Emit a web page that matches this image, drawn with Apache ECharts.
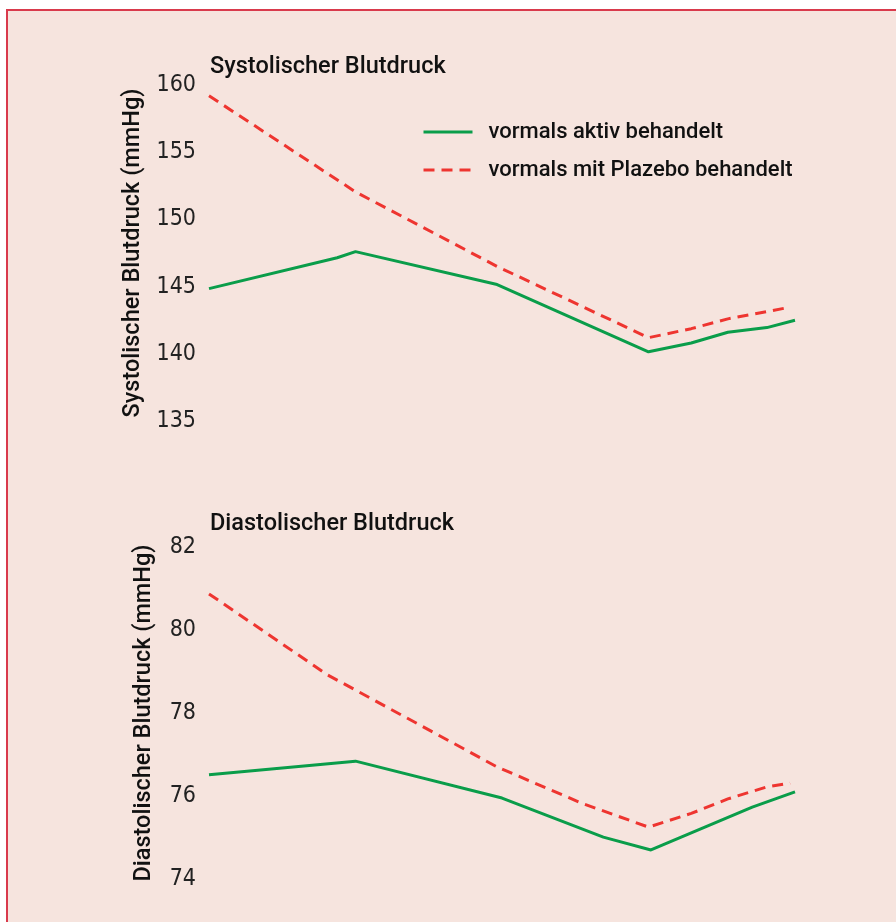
<!DOCTYPE html>
<html>
<head>
<meta charset="utf-8">
<script src="https://cdn.jsdelivr.net/npm/echarts@6/dist/echarts.min.js"></script>
<style>
html,body{margin:0;padding:0;background:#ffffff;}
#chart{width:896px;height:922px;}
</style>
</head>
<body>
<div id="chart"></div>
<script>
// ---- data (x = months of follow-up) ----
const seriesNames = ['vormals aktiv behandelt', 'vormals mit Plazebo behandelt'];
const panelTitles = ['Systolischer Blutdruck', 'Diastolischer Blutdruck'];
const axisNames = ['Systolischer Blutdruck (mmHg)', 'Diastolischer Blutdruck (mmHg)'];

const sysAktivX = [0, 10.5, 12, 23.6, 36, 39.5, 42.5, 45.7, 48];
const sysAktivY = [144.85, 147.15, 147.6, 145.15, 140.15, 140.8, 141.6, 141.95, 142.5];
const sysPlazeboX = [0, 12, 23.6, 36, 39.5, 42.5, 45.7, 47.6];
const sysPlazeboY = [159.2, 152.05, 146.5, 141.2, 141.87, 142.6, 143.14, 143.47];

const diaAktivX = [0, 12, 24, 32.3, 36.2, 44.5, 48];
const diaAktivY = [76.51, 76.84, 75.95, 75.01, 74.7, 75.73, 76.1];
const diaPlazeboX = [0, 9.7, 23.6, 30.5, 36, 39.5, 42.5, 45.7, 47.6];
const diaPlazeboY = [80.87, 78.92, 76.7, 75.83, 75.25, 75.58, 75.93, 76.22, 76.31];

const sysTicks = [135, 140, 145, 150, 155, 160];
const diaTicks = [74, 76, 78, 80, 82];

// ---- styles ----
const GREEN = '#0a9d4a';
const RED = '#ee3530';
const BG = '#f6e4de';
const BORDER = '#d93a4c';
const TXT = '#111111';
const tickFont = "'Liberation Sans Narrow', 'DejaVu Sans Condensed', 'Roboto Condensed', 'Liberation Sans', sans-serif";
const textFont = "Roboto, 'Liberation Sans', sans-serif";

function pairs(xs, ys) { return xs.map((x, i) => [x, ys[i]]); }

function yAxisFor(gridIndex, ticks, name) {
  return {
    type: 'value', gridIndex: gridIndex,
    min: ticks[0], max: ticks[ticks.length - 1], interval: ticks[1] - ticks[0],
    axisLine: {show: false}, axisTick: {show: false}, splitLine: {show: false},
    axisLabel: {margin: 13, fontFamily: tickFont, fontSize: 23, color: '#222'},
    name: name, nameLocation: 'middle', nameGap: 53,
    nameTextStyle: {fontFamily: textFont, fontSize: 23.5, fontWeight: 500, color: TXT}
  };
}

function xAxisFor(gridIndex) {
  return {type: 'value', gridIndex: gridIndex, min: 0, max: 48, show: false};
}

function lineSeries(name, gi, xs, ys, color, dashed) {
  return {
    name: name, type: 'line', xAxisIndex: gi, yAxisIndex: gi,
    data: pairs(xs, ys), symbol: 'none', smooth: false, silent: true,
    lineStyle: {color: color, width: 3, type: dashed ? [11, 7] : 'solid'},
    itemStyle: {color: color}
  };
}

const chart = echarts.init(document.getElementById('chart'), null, {renderer: 'canvas'});
chart.setOption({
  animation: false,
  backgroundColor: '#ffffff',
  graphic: [{
    type: 'rect', z: -10, silent: true,
    shape: {x: 7, y: 10, width: 900, height: 920},
    style: {fill: BG, stroke: BORDER, lineWidth: 2}
  }],
  title: [
    {text: panelTitles[0], left: 210, top: 55, padding: 0,
     textStyle: {fontFamily: textFont, fontSize: 23.5, fontWeight: 500, color: TXT}},
    {text: panelTitles[1], left: 210, top: 512, padding: 0,
     textStyle: {fontFamily: textFont, fontSize: 23.5, fontWeight: 500, color: TXT}}
  ],
  legend: {
    orient: 'vertical', left: 422, top: 121, padding: 0,
    itemWidth: 49, itemHeight: 14, itemGap: 16,
    selectedMode: false,
    itemStyle: {opacity: 0},
    lineStyle: {width: 3},
    data: seriesNames,
    textStyle: {fontFamily: textFont, fontSize: 22, fontWeight: 500, color: TXT,
                padding: [0, 0, 0, 11]}
  },
  grid: [
    {left: 209, top: 85, width: 586, height: 336},
    {left: 209, top: 547, width: 586, height: 332}
  ],
  xAxis: [xAxisFor(0), xAxisFor(1)],
  yAxis: [yAxisFor(0, sysTicks, axisNames[0]), yAxisFor(1, diaTicks, axisNames[1])],
  series: [
    lineSeries(seriesNames[0], 0, sysAktivX, sysAktivY, GREEN, false),
    lineSeries(seriesNames[1], 0, sysPlazeboX, sysPlazeboY, RED, true),
    lineSeries(seriesNames[0], 1, diaAktivX, diaAktivY, GREEN, false),
    lineSeries(seriesNames[1], 1, diaPlazeboX, diaPlazeboY, RED, true)
  ]
});
</script>
</body>
</html>
